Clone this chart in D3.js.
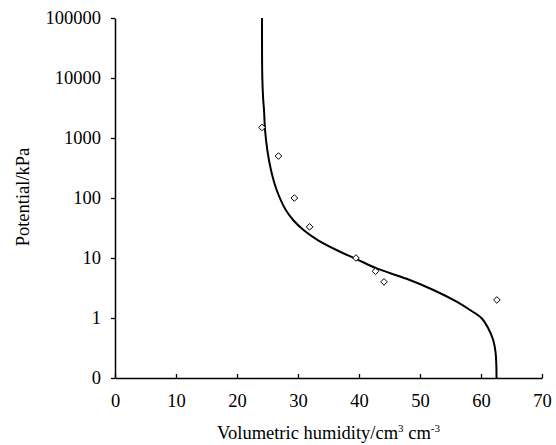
<!DOCTYPE html>
<html lang="en">
<head>
    <meta charset="UTF-8">
    <title>Water retention curve</title>
    <script src="https://d3js.org/d3.v7.min.js"></script>
    <style>
        body { margin: 0; background: #fff; }
    </style>
</head>
<body>
    <svg id="chart"></svg>

    <script>
        // fitted curve: volumetric humidity (cm3 cm-3, %) vs potential (kPa)
        const curveTheta = [24.1, 24.15, 24.3, 24.43, 24.6, 24.97, 25.57, 26.5, 28.0, 29.2, 30.9, 33.3, 36.9, 39.6, 42.9, 47.8, 52.2, 56.0, 58.2, 60.1, 61.2, 62.0, 62.4, 62.55];
        const curvePotential = [100000, 10000, 4300, 2930, 1360, 630, 293, 136, 63, 43, 29.3, 19.7, 12.7, 9.6, 6.7, 4.5, 2.93, 1.87, 1.36, 0.99, 0.67, 0.43, 0.26, 0.1];

        // measured points
        const obsTheta = [24.1, 26.8, 29.4, 31.9, 39.5, 42.7, 44.1, 62.6];
        const obsPotential = [1500, 500, 100, 33, 10, 6, 4, 2];

        const xTicks = [0, 10, 20, 30, 40, 50, 60, 70];
        const yTicks = [0.1, 1, 10, 100, 1000, 10000, 100000];
        const yTickLabels = ["0", "1", "10", "100", "1000", "10000", "100000"];

        const FONT = "'Liberation Serif', 'Times New Roman', serif";
        const FS = 18.5;
        const width = 556, height = 445;
        const margin = { top: 18, right: 14, bottom: 67, left: 115 };

        const svg = d3.select("#chart")
            .attr("width", width)
            .attr("height", height);

        const x = d3.scaleLinear()
            .domain([0, 70])
            .range([margin.left, width - margin.right]);

        const y = d3.scaleLog()
            .domain([0.1, 100000])
            .range([height - margin.bottom, margin.top]);

        // x axis, ticks pointing inward
        const xAxis = svg.append("g")
            .attr("transform", `translate(0,${height - margin.bottom})`)
            .call(d3.axisBottom(x).tickValues(xTicks).tickSizeInner(-4).tickSizeOuter(0).tickPadding(16));
        xAxis.attr("font-family", FONT).attr("font-size", FS);
        xAxis.select(".domain").attr("stroke-width", 1.5);
        xAxis.selectAll(".tick line").attr("stroke-width", 1.3);

        // y axis, ticks pointing outward
        const yAxis = svg.append("g")
            .attr("transform", `translate(${margin.left},0)`)
            .call(d3.axisLeft(y).tickValues(yTicks).tickSize(4).tickSizeOuter(0).tickPadding(10)
                .tickFormat((d, i) => yTickLabels[i]));
        yAxis.attr("font-family", FONT).attr("font-size", FS);
        yAxis.select(".domain").attr("stroke-width", 1.5);
        yAxis.selectAll(".tick line").attr("stroke-width", 1.3);

        // curve
        const line = d3.line()
            .x((d, i) => x(curveTheta[i]))
            .y(d => y(d))
            .curve(d3.curveCatmullRom.alpha(0.5));

        svg.append("path")
            .datum(curvePotential)
            .attr("d", line)
            .attr("fill", "none")
            .attr("stroke", "#000")
            .attr("stroke-width", 2);

        // observed points as hollow diamonds
        svg.append("g")
            .selectAll("path")
            .data(obsPotential)
            .join("path")
            .attr("transform", (d, i) => `translate(${x(obsTheta[i])},${y(d)})`)
            .attr("d", d3.symbol().type(d3.symbolDiamond2).size(28))
            .attr("fill", "#fff")
            .attr("stroke", "#000")
            .attr("stroke-width", 1);

        // axis titles
        svg.append("text")
            .attr("transform", "translate(29,197) rotate(-90)")
            .attr("text-anchor", "middle")
            .attr("font-family", FONT)
            .attr("font-size", FS)
            .text("Potential/kPa");

        const xt = svg.append("text")
            .attr("x", (margin.left + width - margin.right) / 2)
            .attr("y", 439)
            .attr("text-anchor", "middle")
            .attr("font-family", FONT)
            .attr("font-size", FS);
        xt.append("tspan").text("Volumetric humidity/cm");
        xt.append("tspan").attr("font-size", 11).attr("dy", -7).text("3");
        xt.append("tspan").attr("dy", 7).text(" cm");
        xt.append("tspan").attr("font-size", 11).attr("dy", -7).text("-3");
    </script>
</body>
</html>
